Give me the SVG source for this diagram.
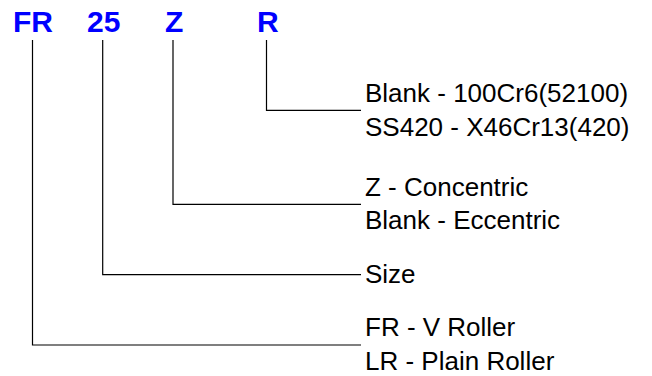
<svg xmlns="http://www.w3.org/2000/svg" width="652" height="376" viewBox="0 0 652 376">
<style>
.code{font-family:"Liberation Sans",Arial,sans-serif;font-weight:bold;font-size:30px;fill:#0000FF}
.lbl{font-family:"Liberation Sans",Arial,sans-serif;font-size:26px;fill:#000}
.ln{fill:none;stroke:#000;stroke-width:1.2}
</style>
<rect width="652" height="376" fill="#fff"/>
<g id="codes">
<text class="code" x="13" y="32">FR</text>
<text class="code" x="87" y="32">25</text>
<text class="code" x="165" y="32">Z</text>
<text class="code" x="257" y="32">R</text>
</g>
<g id="connectors">
<polyline class="ln" points="266.5,40 266.5,110.3 361,110.3"/>
<polyline class="ln" points="173,40 173,204.3 361,204.3"/>
<polyline class="ln" points="102.7,40 102.7,274.7 361,274.7"/>
<polyline class="ln" points="32.5,40 32.5,345 361,345"/>
</g>
<g id="node-material">
<text class="lbl" x="365" y="102">Blank - 100Cr6(52100)</text>
<text class="lbl" x="365" y="136">SS420 - X46Cr13(420)</text>
</g>
<g id="node-type">
<text class="lbl" x="365" y="196">Z - Concentric</text>
<text class="lbl" x="365" y="229">Blank - Eccentric</text>
</g>
<g id="node-size">
<text class="lbl" x="365" y="283">Size</text>
</g>
<g id="node-roller">
<text class="lbl" x="365" y="336">FR - V Roller</text>
<text class="lbl" x="365" y="370">LR - Plain Roller</text>
</g>
</svg>
